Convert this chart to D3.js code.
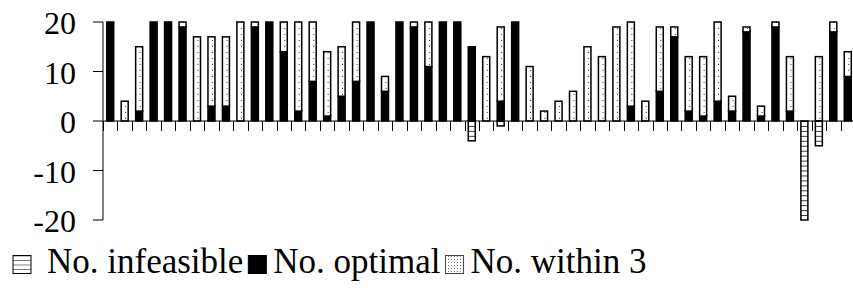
<!DOCTYPE html>
<html>
<head>
<meta charset="utf-8">
<script src="https://cdn.jsdelivr.net/npm/d3@7"></script>
<style>
  body { margin: 0; background: #fff; }
</style>
</head>
<body>
<svg id="chart" width="853" height="291"></svg>
<script>
// one entry per instance, left to right
var optimal    = [20, 0, 2, 20, 20, 19, 0, 3, 3, 0, 19, 20, 14, 2, 8, 1, 5, 8, 20, 6, 20, 19, 11, 20, 20, 15,
                  0, 4, 20, 0, 0, 0, 0, 0, 0, 0, 3, 0, 6, 17, 2, 1, 4, 2, 18, 1, 19, 2, 0, 0, 18, 9];
var within3    = [0, 4, 13, 0, 0, 1, 17, 14, 14, 20, 1, 0, 6, 18, 12, 13, 10, 12, 0, 3, 0, 1, 9, 0, 0, 0,
                  13, 15, 0, 11, 2, 4, 6, 15, 13, 19, 17, 4, 13, 2, 11, 12, 16, 3, 1, 2, 1, 11, 0, 13, 2, 5];
var infeasible = [0, 0, 0, 0, 0, 0, 0, 0, 0, 0, 0, 0, 0, 0, 0, 0, 0, 0, 0, 0, 0, 0, 0, 0, 0, 4,
                  0, 1, 0, 0, 0, 0, 0, 0, 0, 0, 0, 0, 0, 0, 0, 0, 0, 0, 0, 0, 0, 0, 20, 5, 0, 0];
var yTicks = [-20, -10, 0, 10, 20];
var legendLabels = ["No. infeasible", "No. optimal", "No. within 3"];

var fontFamily = '"Liberation Serif", "DejaVu Serif", "Times New Roman", serif';
var svg = d3.select("#chart");
var margin = { top: 22, left: 103, right: -2, bottom: 71 };
var width = 853 - margin.left - margin.right;
var height = 291 - margin.top - margin.bottom;

var x = d3.scaleBand()
  .domain(d3.range(optimal.length))
  .range([margin.left, margin.left + width])
  .paddingInner(0)
  .paddingOuter(0);
var y = d3.scaleLinear().domain([-20, 20]).range([margin.top + height, margin.top]);

var defs = svg.append("defs");
var unit = y(0) - y(1);

// horizontal lines, one per unit
var pInf = defs.append("pattern")
  .attr("id", "pInf")
  .attr("patternUnits", "userSpaceOnUse")
  .attr("width", 20)
  .attr("height", unit)
  .attr("y", y(0));
pInf.append("rect").attr("width", 20).attr("height", unit).attr("fill", "#fff");
pInf.append("line").attr("x1", 0).attr("x2", 20).attr("y1", 0).attr("y2", 0)
  .attr("stroke", "#000").attr("stroke-width", 1.5);

// sparse dots, one column per bar
var pWin = defs.append("pattern")
  .attr("id", "pWin")
  .attr("patternUnits", "userSpaceOnUse")
  .attr("x", margin.left)
  .attr("y", y(0))
  .attr("width", x.step())
  .attr("height", 6);
pWin.append("rect").attr("width", x.step()).attr("height", 6).attr("fill", "#fff");
pWin.append("rect").attr("x", x.step() / 2 + 0.5).attr("y", 3).attr("width", 1).attr("height", 1).attr("fill", "#333");

// legend icon patterns
var pInfL = defs.append("pattern")
  .attr("id", "pInfL")
  .attr("patternUnits", "userSpaceOnUse")
  .attr("width", 30)
  .attr("height", 4.5)
  .attr("y", 255.5);
pInfL.append("rect").attr("width", 30).attr("height", 4.5).attr("fill", "#fff");
pInfL.append("line").attr("x1", 0).attr("x2", 30).attr("y1", 0).attr("y2", 0)
  .attr("stroke", "#000").attr("stroke-width", 1);

var pWinL = defs.append("pattern")
  .attr("id", "pWinL")
  .attr("patternUnits", "userSpaceOnUse")
  .attr("width", 3)
  .attr("height", 3);
pWinL.append("rect").attr("width", 3).attr("height", 3).attr("fill", "#fff");
pWinL.append("rect").attr("x", 1).attr("y", 1).attr("width", 1).attr("height", 1).attr("fill", "#777");

// axes
var g = svg.append("g");
g.append("line")
  .attr("x1", margin.left).attr("x2", margin.left)
  .attr("y1", y(20)).attr("y2", y(-20))
  .attr("stroke", "#000").attr("stroke-width", 1);

yTicks.forEach(function (t) {
  g.append("line")
    .attr("x1", margin.left - 10).attr("x2", margin.left)
    .attr("y1", y(t)).attr("y2", y(t))
    .attr("stroke", "#000").attr("stroke-width", 1);
  g.append("text")
    .attr("x", 76)
    .attr("y", y(t) + 12)
    .attr("font-family", fontFamily)
    .attr("font-size", "32px")
    .style("text-anchor", "end")
    .text(t);
});

// category ticks below zero line
for (var i = 0; i <= optimal.length; i++) {
  var tx = Math.round(margin.left + x.step() * i) + 0.5;
  g.append("line")
    .attr("x1", tx).attr("x2", tx)
    .attr("y1", y(0)).attr("y2", y(0) + 10)
    .attr("stroke", "#000").attr("stroke-width", 1);
}

var barW = 7;
var bars = svg.append("g");

for (let i = 0; i < optimal.length; i++) {
  var bx = x(i) + (x.bandwidth() - barW) / 2;
  var o = optimal[i], w = within3[i], n = infeasible[i];
  if (o > 0) {
    bars.append("rect")
      .attr("x", bx).attr("y", y(o))
      .attr("width", barW).attr("height", y(0) - y(o))
      .attr("fill", "#000").attr("stroke", "#000").attr("stroke-width", 1.5);
  }
  if (w > 0) {
    bars.append("rect")
      .attr("x", bx).attr("y", y(o + w))
      .attr("width", barW).attr("height", y(o) - y(o + w))
      .attr("fill", "url(#pWin)").attr("stroke", "#000").attr("stroke-width", 1.5);
  }
  if (n > 0) {
    bars.append("rect")
      .attr("x", bx).attr("y", y(0))
      .attr("width", barW).attr("height", y(-n) - y(0))
      .attr("fill", "url(#pInf)").attr("stroke", "#000").attr("stroke-width", 1.5);
  }
}

// zero line drawn over the bars
g.append("line")
  .attr("x1", margin.left).attr("x2", 853)
  .attr("y1", y(0)).attr("y2", y(0))
  .attr("stroke", "#000").attr("stroke-width", 1);
svg.node().appendChild(g.node());

// legend
var legendFill = ["url(#pInfL)", "#000", "url(#pWinL)"];
var legend = svg.append("g");
var lx = 13;
legendLabels.forEach(function (lab, k) {
  legend.append("rect")
    .attr("x", lx).attr("y", 255.5)
    .attr("width", 18).attr("height", 18)
    .attr("fill", legendFill[k])
    .attr("stroke", k == 2 ? "#444" : "#000").attr("stroke-width", 1);
  var tx0 = lx + (k == 0 ? 34 : 25);
  var t = legend.append("text")
    .attr("x", tx0)
    .attr("y", 273)
    .attr("font-family", fontFamily)
    .attr("font-size", "35px")
    .text(lab);
  lx = tx0 + t.node().getComputedTextLength() + 5;
});
</script>
</body>
</html>
